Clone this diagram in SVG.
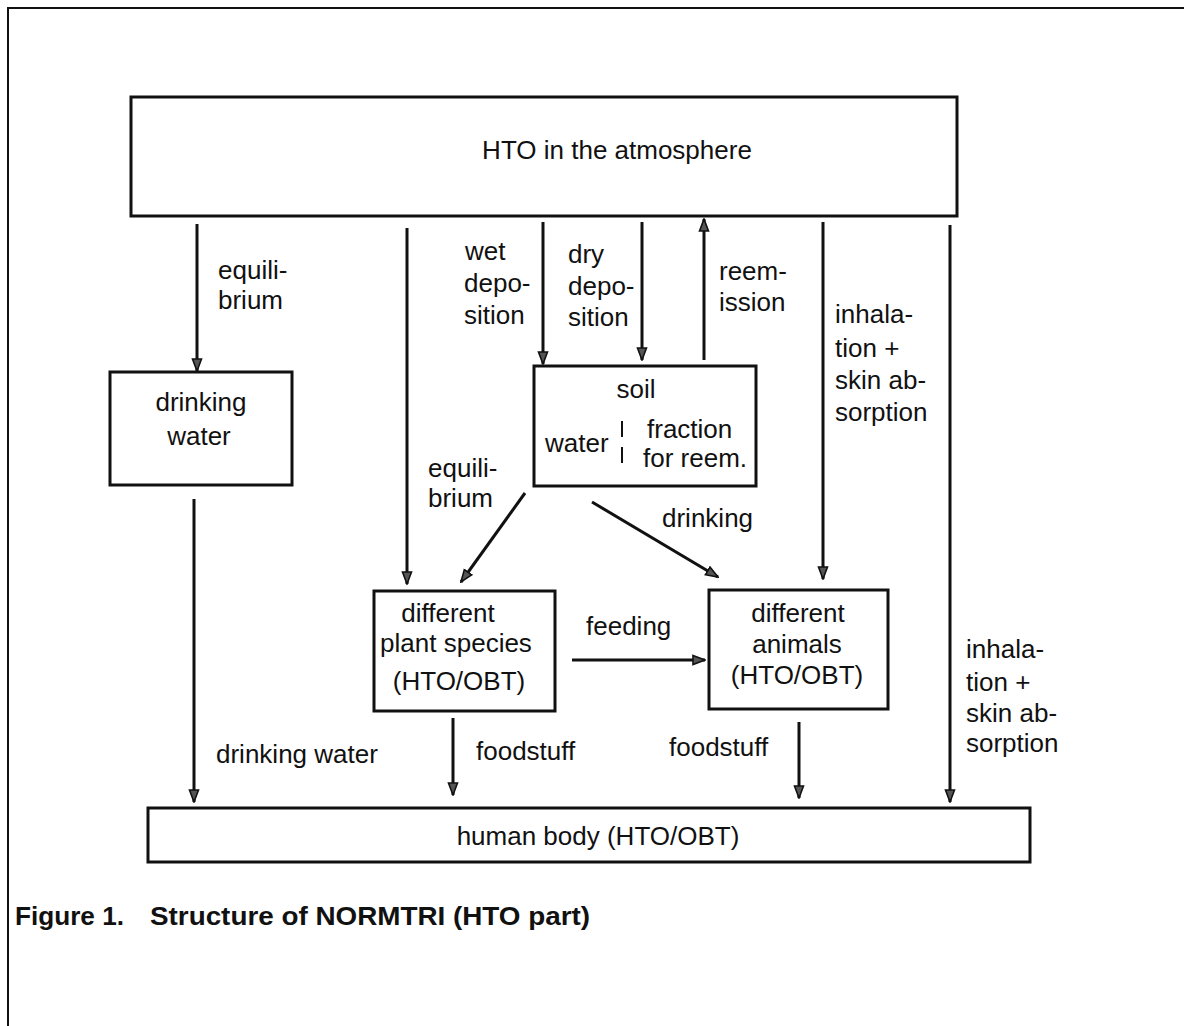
<svg xmlns="http://www.w3.org/2000/svg" width="1184" height="1026" viewBox="0 0 1184 1026">
<defs>
<style>
.box{fill:none;stroke:#111;stroke-width:3}
.ln{fill:none;stroke:#111;stroke-width:3}
.t{font-family:"Liberation Sans",Arial,Helvetica,sans-serif;font-size:26px;fill:#111}
.c{text-anchor:middle}
.cap{font-family:"Liberation Sans",Arial,Helvetica,sans-serif;font-size:25px;font-weight:bold;fill:#111}
</style>
<marker id="ah" markerUnits="userSpaceOnUse" markerWidth="14" markerHeight="12" refX="13" refY="6" orient="auto" viewBox="0 0 14 12">
<path d="M1,1.5 L13,6 L1,10.5 z" fill="#555" stroke="#111" stroke-width="1.6"/>
</marker>
</defs>
<rect width="1184" height="1026" fill="#fff"/>
<g id="frame">
<path d="M8,1026 L8,8 L1184,8" fill="none" stroke="#111" stroke-width="2"/>
</g>
<g id="atmosphere">
<rect class="box" x="131" y="97" width="826" height="119"/>
<text class="t c" x="617" y="159">HTO in the atmosphere</text>
</g>
<g id="drinking-water">
<rect class="box" x="110" y="372" width="182" height="113"/>
<text class="t c" x="201" y="411">drinking</text>
<text class="t c" x="199" y="445">water</text>
</g>
<g id="soil">
<rect class="box" x="534" y="366" width="222" height="120"/>
<text class="t c" x="636" y="398">soil</text>
<text class="t" x="545" y="452">water</text>
<line x1="622" y1="421" x2="622" y2="437" stroke="#111" stroke-width="2"/>
<line x1="622" y1="447" x2="622" y2="463" stroke="#111" stroke-width="2"/>
<text class="t" x="647" y="438">fraction</text>
<text class="t" x="643" y="467">for reem.</text>
</g>
<g id="plants">
<rect class="box" x="374" y="591" width="181" height="120"/>
<text class="t c" x="448" y="622">different</text>
<text class="t c" x="456" y="652">plant species</text>
<text class="t c" x="459" y="690">(HTO/OBT)</text>
</g>
<g id="animals">
<rect class="box" x="709" y="590" width="179" height="119"/>
<text class="t c" x="798" y="622">different</text>
<text class="t c" x="797" y="653">animals</text>
<text class="t c" x="797" y="684">(HTO/OBT)</text>
</g>
<g id="human-body">
<rect class="box" x="148" y="808" width="882" height="54"/>
<text class="t c" x="598" y="845">human body (HTO/OBT)</text>
</g>
<g id="connectors">
<line class="ln" x1="197" y1="224" x2="197" y2="371" marker-end="url(#ah)"/>
<line class="ln" x1="407" y1="228" x2="407" y2="584" marker-end="url(#ah)"/>
<line class="ln" x1="543" y1="222" x2="543" y2="364" marker-end="url(#ah)"/>
<line class="ln" x1="642" y1="222" x2="642" y2="360" marker-end="url(#ah)"/>
<line class="ln" x1="704" y1="360" x2="704" y2="219" marker-end="url(#ah)"/>
<line class="ln" x1="823" y1="222" x2="823" y2="579" marker-end="url(#ah)"/>
<line class="ln" x1="950" y1="225" x2="950" y2="802" marker-end="url(#ah)"/>
<line class="ln" x1="525" y1="493" x2="461" y2="582" marker-end="url(#ah)"/>
<line class="ln" x1="592" y1="502" x2="718" y2="577" marker-end="url(#ah)"/>
<line class="ln" x1="572" y1="660" x2="705" y2="660" marker-end="url(#ah)"/>
<line class="ln" x1="194" y1="499" x2="194" y2="802" marker-end="url(#ah)"/>
<line class="ln" x1="453" y1="718" x2="453" y2="795" marker-end="url(#ah)"/>
<line class="ln" x1="799" y1="722" x2="799" y2="798" marker-end="url(#ah)"/>
</g>
<g id="labels">
<text class="t" x="218" y="279">equili-</text>
<text class="t" x="218" y="309">brium</text>
<text class="t" x="465" y="260">wet</text>
<text class="t" x="464" y="292">depo-</text>
<text class="t" x="464" y="324">sition</text>
<text class="t" x="568" y="263">dry</text>
<text class="t" x="568" y="295">depo-</text>
<text class="t" x="568" y="326">sition</text>
<text class="t" x="719" y="280">reem-</text>
<text class="t" x="719" y="311">ission</text>
<text class="t" x="835" y="323">inhala-</text>
<text class="t" x="835" y="357">tion +</text>
<text class="t" x="835" y="389">skin ab-</text>
<text class="t" x="835" y="421">sorption</text>
<text class="t" x="428" y="477">equili-</text>
<text class="t" x="428" y="507">brium</text>
<text class="t" x="662" y="527">drinking</text>
<text class="t" x="586" y="635">feeding</text>
<text class="t" x="216" y="763">drinking water</text>
<text class="t" x="476" y="760">foodstuff</text>
<text class="t" x="669" y="756">foodstuff</text>
<text class="t" x="966" y="658">inhala-</text>
<text class="t" x="966" y="691">tion +</text>
<text class="t" x="966" y="722">skin ab-</text>
<text class="t" x="966" y="752">sorption</text>
</g>
<g id="caption">
<text class="cap" x="15" y="925" textLength="109" lengthAdjust="spacingAndGlyphs">Figure 1.</text>
<text class="cap" x="150" y="925" textLength="440" lengthAdjust="spacingAndGlyphs">Structure of NORMTRI (HTO part)</text>
</g>
</svg>
